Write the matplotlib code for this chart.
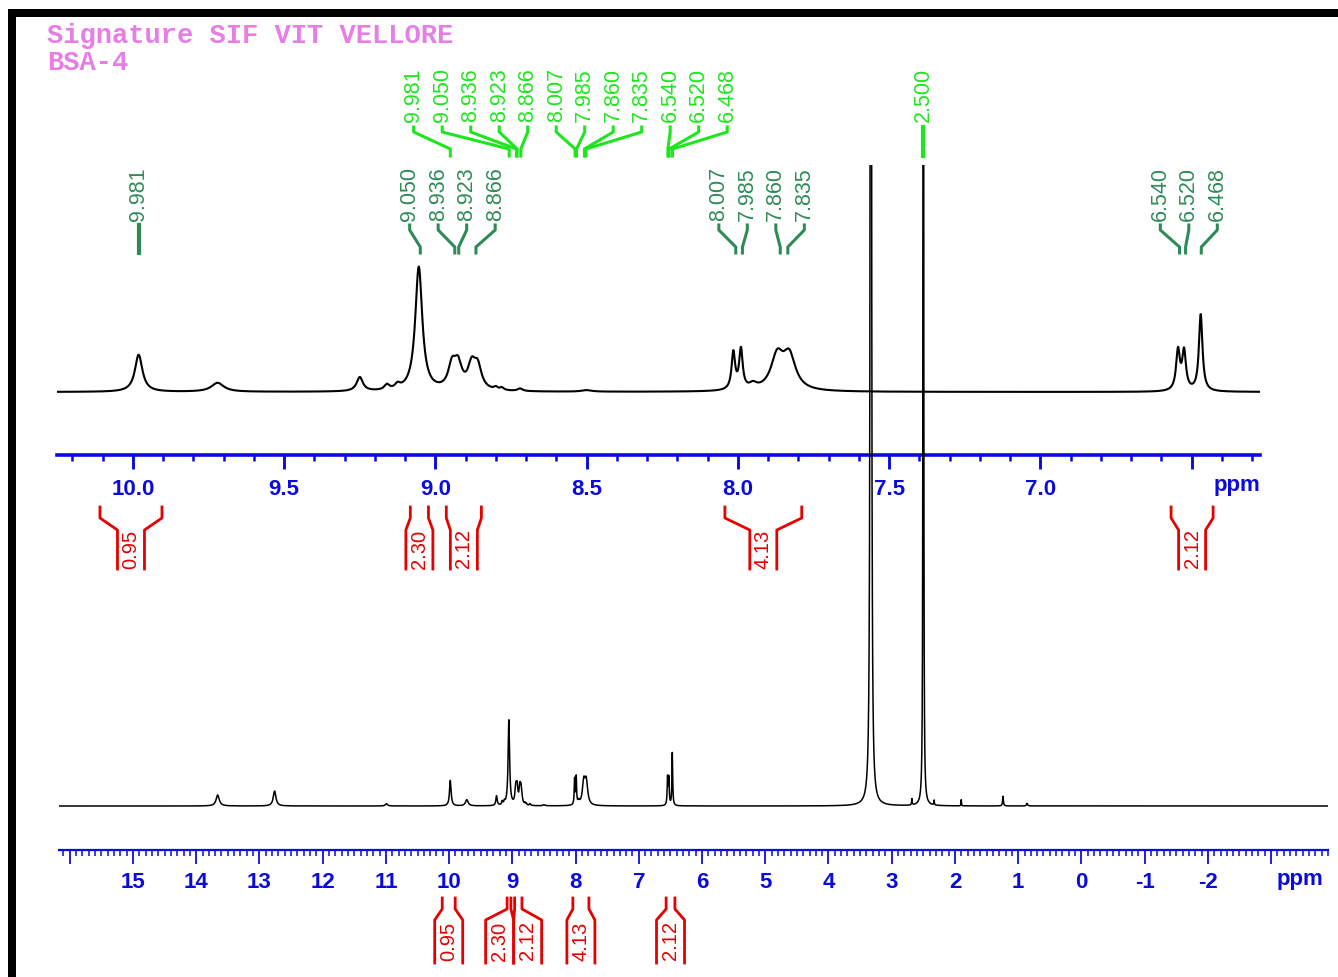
import numpy as np
import matplotlib
matplotlib.use("Agg")
import matplotlib.pyplot as plt
from matplotlib.ticker import MultipleLocator

plt.rcParams['font.family'] = ['Liberation Sans', 'DejaVu Sans']

W, H = 1338, 977

# peak list: shift (ppm), height (9.05 ppm peak = 100), line width (ppm)
peak_ppm = [13.66, 12.76, 10.99, 9.981, 9.72, 9.25, 9.16, 9.125, 9.055,
            8.945, 8.925, 8.88, 8.86,
            8.80, 8.78, 8.72, 8.50, 8.015, 7.99, 7.95, 7.87, 7.83, 6.545, 6.525, 6.47,
            3.33, 2.68, 2.50, 2.33, 1.90, 1.24, 0.86]
peak_height = [12.5, 17, 2.5, 29, 7, 11, 4, 3.5, 97,
               18, 18, 18, 17,
               2, 2, 2, 1.2, 29, 31, 4, 26, 26, 31, 30, 60,
               4000, 7, 4000, 5.5, 7, 11, 3]
peak_width = [0.06, 0.05, 0.04, 0.03, 0.05, 0.025, 0.02, 0.02, 0.028,
              0.03, 0.03, 0.03, 0.03,
              0.015, 0.015, 0.02, 0.04, 0.014, 0.014, 0.03, 0.05, 0.05, 0.015, 0.015, 0.014,
              0.012, 0.01, 0.006, 0.01, 0.008, 0.015, 0.02]

# peak labels, in the groups the software spreads them
upper_label_groups = [["9.981"], ["9.050", "8.936", "8.923", "8.866"],
                      ["8.007", "7.985", "7.860", "7.835"], ["6.540", "6.520", "6.468"]]
lower_label_groups = [["9.981", "9.050", "8.936", "8.923", "8.866", "8.007", "7.985",
                       "7.860", "7.835", "6.540", "6.520", "6.468"], ["2.500"]]

# integrals
integral_from = [10.109, 9.083, 8.964, 8.043, 6.568]
integral_to = [9.904, 9.023, 8.848, 7.789, 6.429]
integral_value = ["0.95", "2.30", "2.12", "4.13", "2.12"]

upper_ticks = [10.0, 9.5, 9.0, 8.5, 8.0, 7.5, 7.0, 6.5]
upper_tick_labels = ["10.0", "9.5", "9.0", "8.5", "8.0", "7.5", "7.0", ""]
lower_ticks = [16, 15, 14, 13, 12, 11, 10, 9, 8, 7, 6, 5, 4, 3, 2, 1, 0, -1, -2, -3]
lower_tick_labels = ["", "15", "14", "13", "12", "11", "10", "9", "8", "7", "6", "5",
                     "4", "3", "2", "1", "0", "-1", "-2", ""]

title_lines = ["Signature SIF VIT VELLORE", "BSA-4"]

BLUE = '#0a0ae0'
RED = '#e60000'
DKGREEN = '#2e8b57'
LTGREEN = '#1ee61e'
PINK = '#e67ee6'


def box(x0, y0, x1, y1):
    return [x0 / W, 1 - y1 / H, (x1 - x0) / W, (y1 - y0) / H]


def spectrum(x):
    y = np.zeros_like(x)
    for p, h, w in zip(peak_ppm, peak_height, peak_width):
        y += h / (1 + ((x - p) / (w / 2)) ** 2)
    return y


fig = plt.figure(figsize=(W / 100, H / 100), dpi=100)

# expansion (upper) spectrum
ax_up = fig.add_axes(box(57, 160, 1260, 455))
up_lo, up_hi = 6.274, 10.251
x_up = np.linspace(up_lo, up_hi, 8000)
ax_up.plot(x_up, spectrum(x_up), color='black', lw=1.5)
ax_up.set_xlim(up_hi, up_lo)
ax_up.set_ylim(-63 / 1.28, 232 / 1.28)

# full spectrum
ax_lo = fig.add_axes(box(59, 165, 1328, 850), zorder=2)
lo_lo, lo_hi = -3.90, 16.17
x_lo = np.linspace(lo_lo, lo_hi, 40001)
ax_lo.plot(x_lo, spectrum(x_lo), color='black', lw=1.1)
ax_lo.set_xlim(lo_hi, lo_lo)
ax_lo.set_ylim(-44 / 0.88, 641 / 0.88)

for ax, ticks, labels, lw, pad in [(ax_up, upper_ticks, upper_tick_labels, 2.6, 7),
                                   (ax_lo, lower_ticks, lower_tick_labels, 1.6, 6)]:
    ax.patch.set_visible(False)
    for s in ['top', 'left', 'right']:
        ax.spines[s].set_visible(False)
    ax.spines['bottom'].set_color(BLUE)
    ax.spines['bottom'].set_linewidth(lw)
    ax.set_yticks([])
    ax.set_xticks(ticks, labels, fontsize=16, fontweight='bold', color=BLUE)
    ax.xaxis.set_minor_locator(MultipleLocator(0.1))
    ax.tick_params(axis='x', which='major', direction='out', length=10, width=lw * 0.8,
                   color=BLUE, pad=pad)
    ax.tick_params(axis='x', which='minor', direction='out', length=4, width=lw * 0.7,
                   color=BLUE)

# overlay in pixel units for labels, integrals and frame
ov = fig.add_axes([0, 0, 1, 1], zorder=10)
ov.set_xlim(0, W)
ov.set_ylim(H, 0)
ov.axis('off')


def px(ax, ppm):
    return ax.transData.transform((ppm, 0))[0]


def peak_labels(ax, groups, y_text, ys, color, step=28.5):
    for group in groups:
        xs = [px(ax, float(t)) for t in group]
        c = np.mean(xs)
        n = len(group)
        for i, (t, xp) in enumerate(zip(group, xs)):
            xl = c + (i - (n - 1) / 2) * step
            ov.text(xl, y_text, t, rotation=90, ha='center', va='bottom',
                    fontsize=15.5, color=color)
            ov.plot([xl, xl, xp, xp], ys, color=color, lw=3 if n == 1 else 2.2)


def integrals(ax, ys, half, y_text):
    centers = [(px(ax, a) + px(ax, b)) / 2 for a, b in zip(integral_from, integral_to)]
    order = np.argsort(centers)
    for k in range(1, len(order)):
        i, j = order[k - 1], order[k]
        if centers[j] - centers[i] < 2 * half:
            m = (centers[i] + centers[j]) / 2
            centers[i], centers[j] = m - half, m + half
    for a, b, v, c in zip(integral_from, integral_to, integral_value, centers):
        xl, xr = px(ax, a), px(ax, b)
        ov.plot([xl, xl, c - half, c - half], ys, color=RED, lw=2)
        ov.plot([xr, xr, c + half, c + half], ys, color=RED, lw=2)
        ov.text(c, y_text, v, rotation=90, ha='center', va='center',
                fontsize=14.5, color=RED)


peak_labels(ax_up, upper_label_groups, 221, [225, 230, 247, 253], DKGREEN)
peak_labels(ax_lo, lower_label_groups, 122, [127, 132, 149, 156], LTGREEN)
integrals(ax_up, [507, 518, 530, 569], 13.5, 549)
integrals(ax_lo, [898, 909, 920, 963], 14, 941)

ov.text(1237, 486, 'ppm', ha='center', va='center', fontsize=16, fontweight='bold', color=BLUE)
ov.text(1300, 879, 'ppm', ha='center', va='center', fontsize=16, fontweight='bold', color=BLUE)

ov.text(47, 43, title_lines[0], family='Liberation Mono', fontweight='bold', fontsize=19.5,
        color=PINK, va='baseline')
ov.text(47, 70, title_lines[1], family='Liberation Mono', fontweight='bold', fontsize=19.5,
        color=PINK, va='baseline')

# black frame on top and left
ov.add_patch(plt.Rectangle((8, 9), W - 8, 8, color='black', lw=0))
ov.add_patch(plt.Rectangle((8, 9), 8, H - 9, color='black', lw=0))

fig.savefig('out.png', dpi=100)
